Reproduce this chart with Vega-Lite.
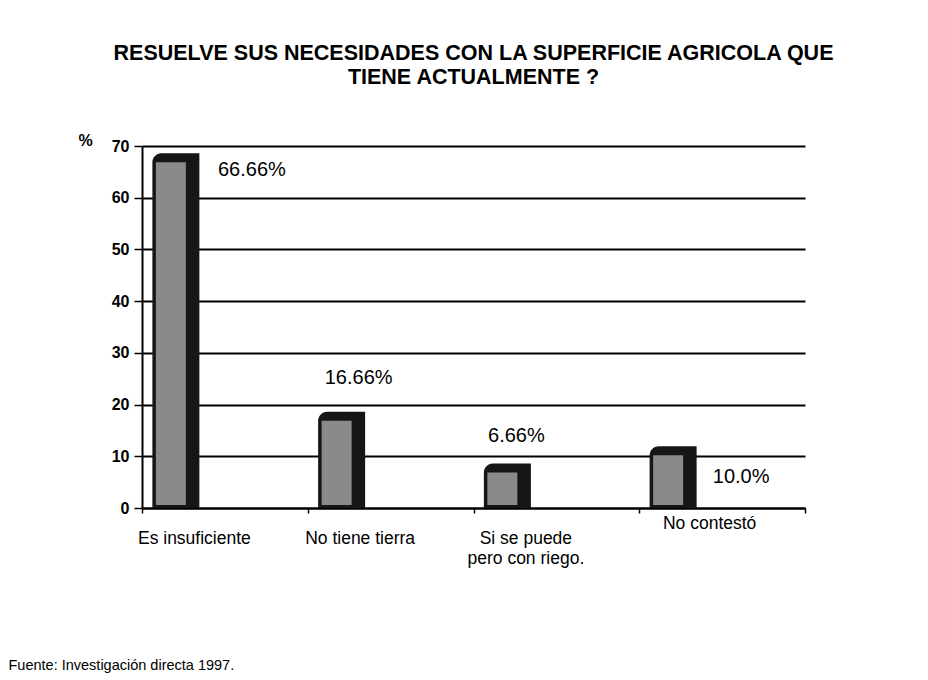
{
  "$schema": "https://vega.github.io/schema/vega-lite/v6.json",
  "width": 663,
  "height": 362,
  "autosize": "none",
  "padding": {"left": 142, "top": 146, "right": 123, "bottom": 172},
  "background": "white",
  "config": {
    "font": "Liberation Sans",
    "view": {"stroke": null}
  },
  "title": {
    "text": ["RESUELVE SUS NECESIDADES CON LA SUPERFICIE AGRICOLA QUE", "TIENE ACTUALMENTE ?"],
    "font": "Liberation Sans",
    "fontSize": 21.5,
    "fontWeight": "bold",
    "color": "black",
    "anchor": "middle",
    "lineHeight": 24,
    "offset": 44
  },
  "data": {
    "values": [
      {"categoria": "Es insuficiente", "porcentaje": 66.66, "etiqueta": "66.66%"},
      {"categoria": "No tiene tierra", "porcentaje": 16.66, "etiqueta": "16.66%"},
      {"categoria": "Si se puede pero con riego.", "porcentaje": 6.66, "etiqueta": "6.66%"},
      {"categoria": "No contestó", "porcentaje": 10.0, "etiqueta": "10.0%"}
    ]
  },
  "encoding": {
    "x": {
      "field": "categoria",
      "type": "nominal",
      "sort": null,
      "scale": {"paddingInner": 0, "paddingOuter": 0},
      "axis": {
        "title": "Fuente: Investigación directa 1997.",
        "titleFont": "Liberation Sans",
        "titleFontSize": 14.5,
        "titleFontWeight": "normal",
        "titleColor": "black",
        "titleX": -134,
        "titleY": 157,
        "titleAlign": "left",
        "titleBaseline": "middle",
        "labelAngle": 0,
        "labelFontSize": 17.5,
        "labelColor": "black",
        "labelAlign": "center",
        "labelBaseline": "top",
        "labelLineHeight": 20,
        "labelOffset": {"condition": {"test": "datum.value == 'No contestó'", "value": -13}, "value": -31},
        "labelPadding": {"condition": {"test": "datum.value == 'No contestó'", "value": 1}, "value": 16},
        "labelExpr": "datum.value == 'Si se puede pero con riego.' ? ['Si se puede', 'pero con riego.'] : datum.value",
        "tickBand": "extent",
        "tickSize": 5,
        "tickColor": "black",
        "tickWidth": 1.5,
        "domainColor": "black",
        "domainWidth": 2,
        "grid": false
      }
    },
    "y": {
      "field": "porcentaje",
      "type": "quantitative",
      "scale": {"domain": [0, 70], "nice": false},
      "axis": {
        "title": "%",
        "titleAngle": 0,
        "titleX": -57,
        "titleY": -6,
        "titleAlign": "center",
        "titleBaseline": "middle",
        "titleFontSize": 16,
        "titleFontWeight": "bold",
        "titleColor": "black",
        "values": [0, 10, 20, 30, 40, 50, 60, 70],
        "labelFontSize": 16,
        "labelFontWeight": "bold",
        "labelColor": "black",
        "labelPadding": 5,
        "tickSize": 8,
        "tickColor": "black",
        "tickWidth": 1.5,
        "domainColor": "black",
        "domainWidth": 2,
        "grid": true,
        "gridColor": "black",
        "gridWidth": 2,
        "gridOpacity": 1
      }
    }
  },
  "layer": [
    {
      "mark": {"type": "bar", "color": "#161616", "width": 47, "xOffset": -49, "yOffset": -10, "cornerRadiusTopLeft": 9},
      "encoding": {"y2": {"datum": 0}}
    },
    {
      "mark": {"type": "bar", "color": "#8a8a8a", "width": 30, "xOffset": -54, "yOffset": -1, "y2Offset": -3},
      "encoding": {"y2": {"datum": 0}}
    },
    {
      "transform": [{"filter": "datum.categoria == 'Es insuficiente'"}],
      "mark": {"type": "text", "fontSize": 20, "color": "black", "align": "center", "baseline": "middle", "dx": 27, "dy": 7},
      "encoding": {"text": {"field": "etiqueta"}}
    },
    {
      "transform": [{"filter": "datum.categoria == 'No tiene tierra'"}],
      "mark": {"type": "text", "fontSize": 20, "color": "black", "align": "center", "baseline": "middle", "dx": -32, "dy": -44},
      "encoding": {"text": {"field": "etiqueta"}}
    },
    {
      "transform": [{"filter": "datum.categoria == 'Si se puede pero con riego.'"}],
      "mark": {"type": "text", "fontSize": 20, "color": "black", "align": "center", "baseline": "middle", "dx": -40, "dy": -38},
      "encoding": {"text": {"field": "etiqueta"}}
    },
    {
      "transform": [{"filter": "datum.categoria == 'No contestó'"}],
      "mark": {"type": "text", "fontSize": 20, "color": "black", "align": "center", "baseline": "middle", "dx": 19, "dy": 21},
      "encoding": {"text": {"field": "etiqueta"}}
    }
  ]
}
